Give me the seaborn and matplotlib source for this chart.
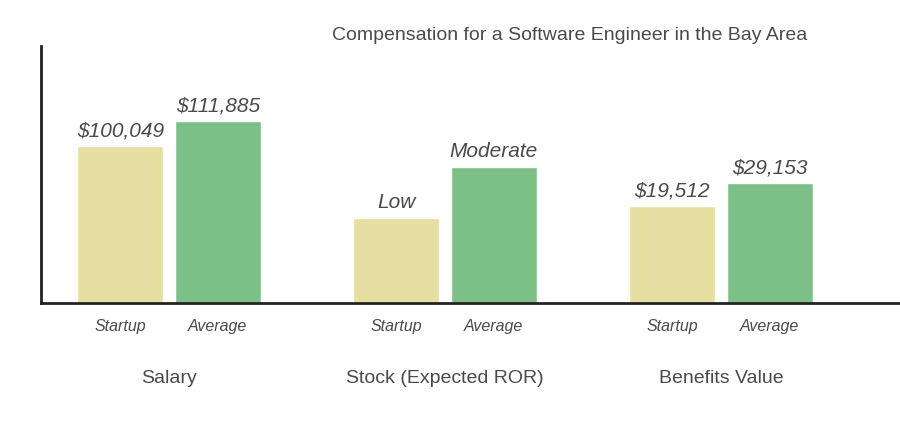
import matplotlib
matplotlib.use('Agg')
import pandas as pd
import matplotlib.pyplot as plt
import seaborn as sns

# values; heights are display heights (the chart is not to scale)
groups = ['Salary', 'Stock (Expected ROR)', 'Benefits Value']
kinds = ['Startup', 'Average']
startup_heights = [157, 85, 97]
average_heights = [182, 136, 120]
startup_labels = ['$100,049', 'Low', '$19,512']
average_labels = ['$111,885', 'Moderate', '$29,153']

df = pd.DataFrame({
    'group': groups * 2,
    'kind': ['Startup'] * 3 + ['Average'] * 3,
    'height': startup_heights + average_heights,
})

sns.set_style('white')
plt.rcParams['font.family'] = ['Liberation Sans', 'DejaVu Sans']

fig = plt.figure(figsize=(9, 4.35), dpi=100)
ax = fig.add_axes([41 / 900, 131 / 435, 1 - 41 / 900, 257 / 435])

sns.barplot(data=df, x='group', y='height', hue='kind', order=groups,
            hue_order=kinds, palette=['#E5DFA1', '#7DC087'], saturation=1,
            width=0.707, gap=0.118, legend=False, ax=ax)

text_col = '#4a4a4a'
for cont, labels, kind in zip(ax.containers, [startup_labels, average_labels], kinds):
    ax.bar_label(cont, labels=labels, padding=5, fontsize=15,
                 fontstyle='italic', color=text_col)
    for patch in cont:
        cx = patch.get_x() + patch.get_width() / 2
        ax.annotate(kind, xy=(cx, 0), xytext=(0, -11), textcoords='offset points',
                    ha='center', va='top', fontsize=11.5, fontstyle='italic',
                    color=text_col, annotation_clip=False)

ax.set_xlim(-0.464, 2.649)
ax.set_ylim(0, 257)
ax.set_yticks([])
ax.set_xlabel('')
ax.set_ylabel('')
ax.tick_params(axis='x', length=0, pad=47.5, labelsize=14, labelcolor=text_col)
sns.despine(ax=ax, top=True, right=True)
for side in ['left', 'bottom']:
    ax.spines[side].set_linewidth(2)
    ax.spines[side].set_color('#222222')

fig.text(570 / 900, 1 - 35 / 435, 'Compensation for a Software Engineer in the Bay Area',
         ha='center', va='center', fontsize=14, color=text_col)

fig.savefig('out.png', dpi=100)
